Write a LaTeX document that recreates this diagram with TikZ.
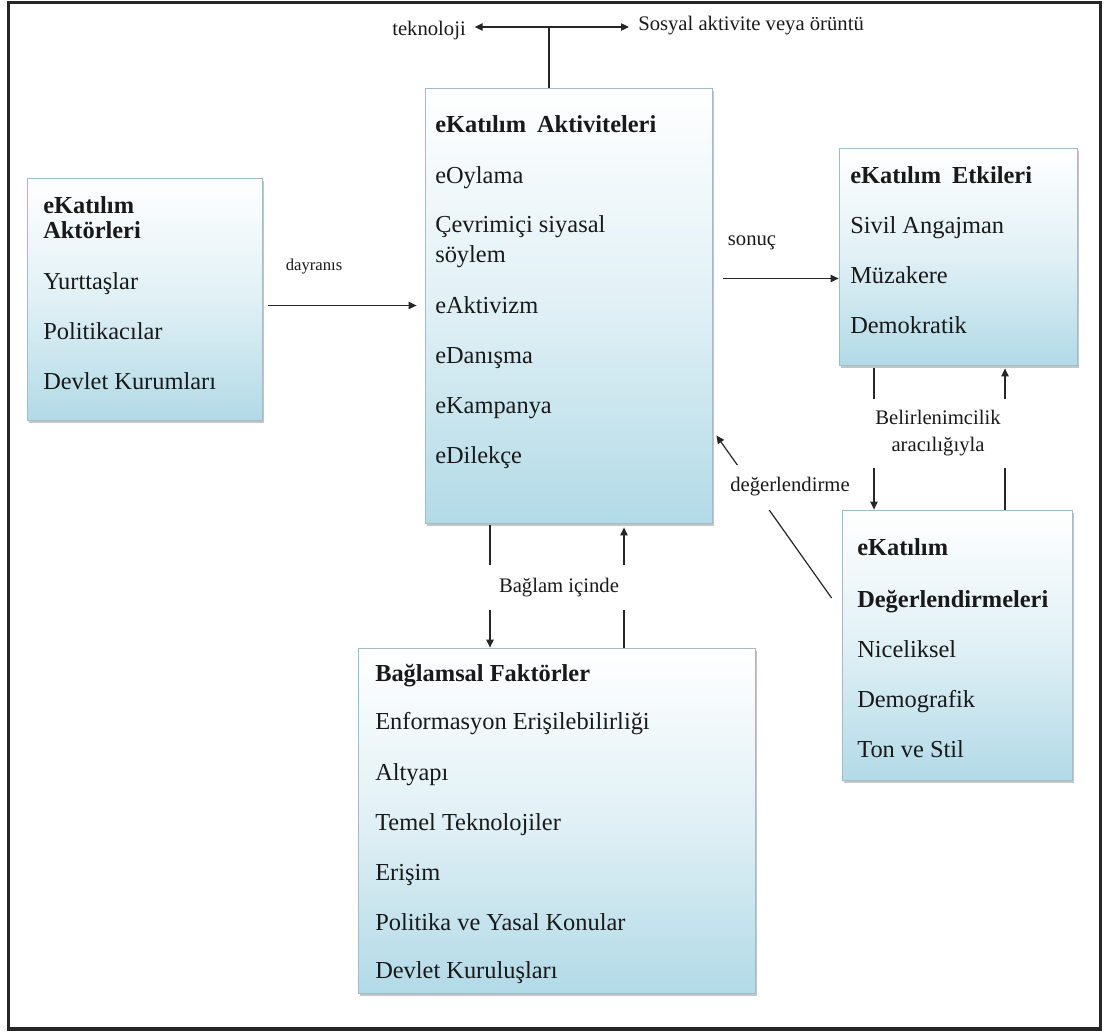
\documentclass[tikz,border=0pt]{standalone}
\usepackage{fontspec}
\setmainfont{Liberation Serif}
\usetikzlibrary{arrows.meta,shadows,calc}
\definecolor{panelblue}{RGB}{178,218,231}
\definecolor{paneledge}{RGB}{160,188,202}
\newcommand{\itemfont}{\fontsize{18.3}{22}\selectfont}
\newcommand{\lblfont}{\fontsize{15.5}{20}\selectfont}
\begin{document}
\begin{tikzpicture}[
  x=0.75pt, y=-0.75pt,
  panel/.style={rectangle, draw=paneledge, line width=0.6pt, inner sep=0pt,
    top color=white, bottom color=panelblue, middle color=panelblue!40!white,
    drop shadow={shadow xshift=1.4pt, shadow yshift=-2pt, fill=black!45}},
  item/.style={anchor=base west, inner sep=0pt, text=black!90, font=\itemfont},
  head/.style={item, font=\itemfont\bfseries},
  lbl/.style={inner sep=0pt, text=black!90, font=\lblfont},
  gap/.style={lbl, fill=white, align=center},
  link/.style={line width=0.9pt, draw=black!85},
  arr/.style={link, -{Triangle[length=6pt,width=5.5pt]}}
  ]
  \useasboundingbox (0,0) rectangle (1107,1032);
  \draw[line width=2.6pt, black!85] (8.5,2.5) rectangle (1100.5,1029);

  % the five boxes
  \node[panel, minimum width=176.25pt, minimum height=181.5pt] (actors) at (144.5,299) {};
  \node[panel, minimum width=215.25pt, minimum height=326.25pt] (activities) at (568.5,305.5) {};
  \node[panel, minimum width=178.5pt, minimum height=162.75pt] (effects) at (958,256.5) {};
  \node[panel, minimum width=172.5pt, minimum height=202.5pt] (evals) at (957,645) {};
  \node[panel, minimum width=297.75pt, minimum height=258.75pt] (context) at (556.5,820.5) {};

  % box texts
  \node[head] (actH1) at (43,213) {eKatılım};
  \node[head] (actH2) at (43,238) {Aktörleri};
  \foreach \t/\y [count=\i] in {Yurttaşlar/289, Politikacılar/339, Devlet Kurumları/389}
    \node[item] (act\i) at (43,\y) {\t};

  \node[head] (actvH) at (435,132) {eKatılım\hskip0.45em Aktiviteleri};
  \foreach \t/\y [count=\i] in {eOylama/183, Çevrimiçi siyasal/232, söylem/262,
      eAktivizm/313, eDanışma/363, eKampanya/413, eDilekçe/463}
    \node[item] (actv\i) at (435,\y) {\t};

  \node[head] (effH) at (850,183) {eKatılım\hskip0.45em Etkileri};
  \foreach \t/\y [count=\i] in {Sivil Angajman/233, Müzakere/283, Demokratik/333}
    \node[item] (eff\i) at (850,\y) {\t};

  \node[head] (evalH1) at (857,555) {eKatılım};
  \node[head] (evalH2) at (857,607) {Değerlendirmeleri};
  \foreach \t/\y [count=\i] in {Niceliksel/657, Demografik/707, Ton ve Stil/757}
    \node[item] (eval\i) at (857,\y) {\t};

  \node[head] (ctxH) at (375,681) {Bağlamsal Faktörler};
  \foreach \t/\y [count=\i] in {Enformasyon Erişilebilirliği/729, Altyapı/780,
      Temel Teknolojiler/830, Erişim/880, Politika ve Yasal Konular/930,
      Devlet Kuruluşları/978}
    \node[item] (ctx\i) at (375,\y) {\t};

  % top labels
  \node[lbl, anchor=base east] (tekno) at (466,35) {teknoloji};
  \node[lbl, anchor=base west] (sosyal) at (638,30) {Sosyal aktivite veya örüntü};
  \coordinate (fork) at (549,27);
  \draw[link] (fork |- activities.north) -- (fork);
  \draw[arr, shorten >=6.5pt] (fork) -- (tekno.east |- fork);
  \draw[arr, shorten >=6.75pt] (fork) -- (sosyal.west |- fork);

  % actors -> activities
  \node[lbl, anchor=base, font=\fontsize{12.5}{15}\selectfont] (dayr) at (314,270) {dayranıs};
  \draw[arr, shorten <=4.5pt, shorten >=6pt] (actors.east |- activities.west) -- (activities.west);

  % activities -> effects
  \node[lbl, anchor=base] (sonuc) at (752,245) {sonuç};
  \draw[arr, shorten <=8pt] ($(activities.east |- effects.west)+(0,22)$) -- ($(effects.west)+(0,22)$);

  % effects <-> evaluations
  \draw[arr, shorten <=2pt] (874,0 |- effects.south) -- (874,0 |- evals.north);
  \draw[arr, shorten >=2.25pt] (1005,0 |- evals.north) -- (1005,0 |- effects.south);
  \node[gap, minimum width=117pt, minimum height=51.75pt] (belir) at (938,433)
    {Belirlenimcilik\\aracılığıyla};

  % activities <-> context
  \draw[arr, shorten <=1.5pt] (490,0 |- activities.south) -- (490,0 |- context.north);
  \draw[arr, shorten >=3pt] (624,0 |- context.north) -- (624,0 |- activities.south);
  \node[gap, minimum width=120pt, minimum height=33.75pt] (baglam) at (559,587.5) {Bağlam içinde};

  % evaluations -> activities
  \draw[arr] ($(evals.west)+(-10,-47)$) -- ($(activities.east)+(4,130)$);
  \node[gap, minimum height=33.75pt] (deger) at (790,487) {değerlendirme};
\end{tikzpicture}
\end{document}
